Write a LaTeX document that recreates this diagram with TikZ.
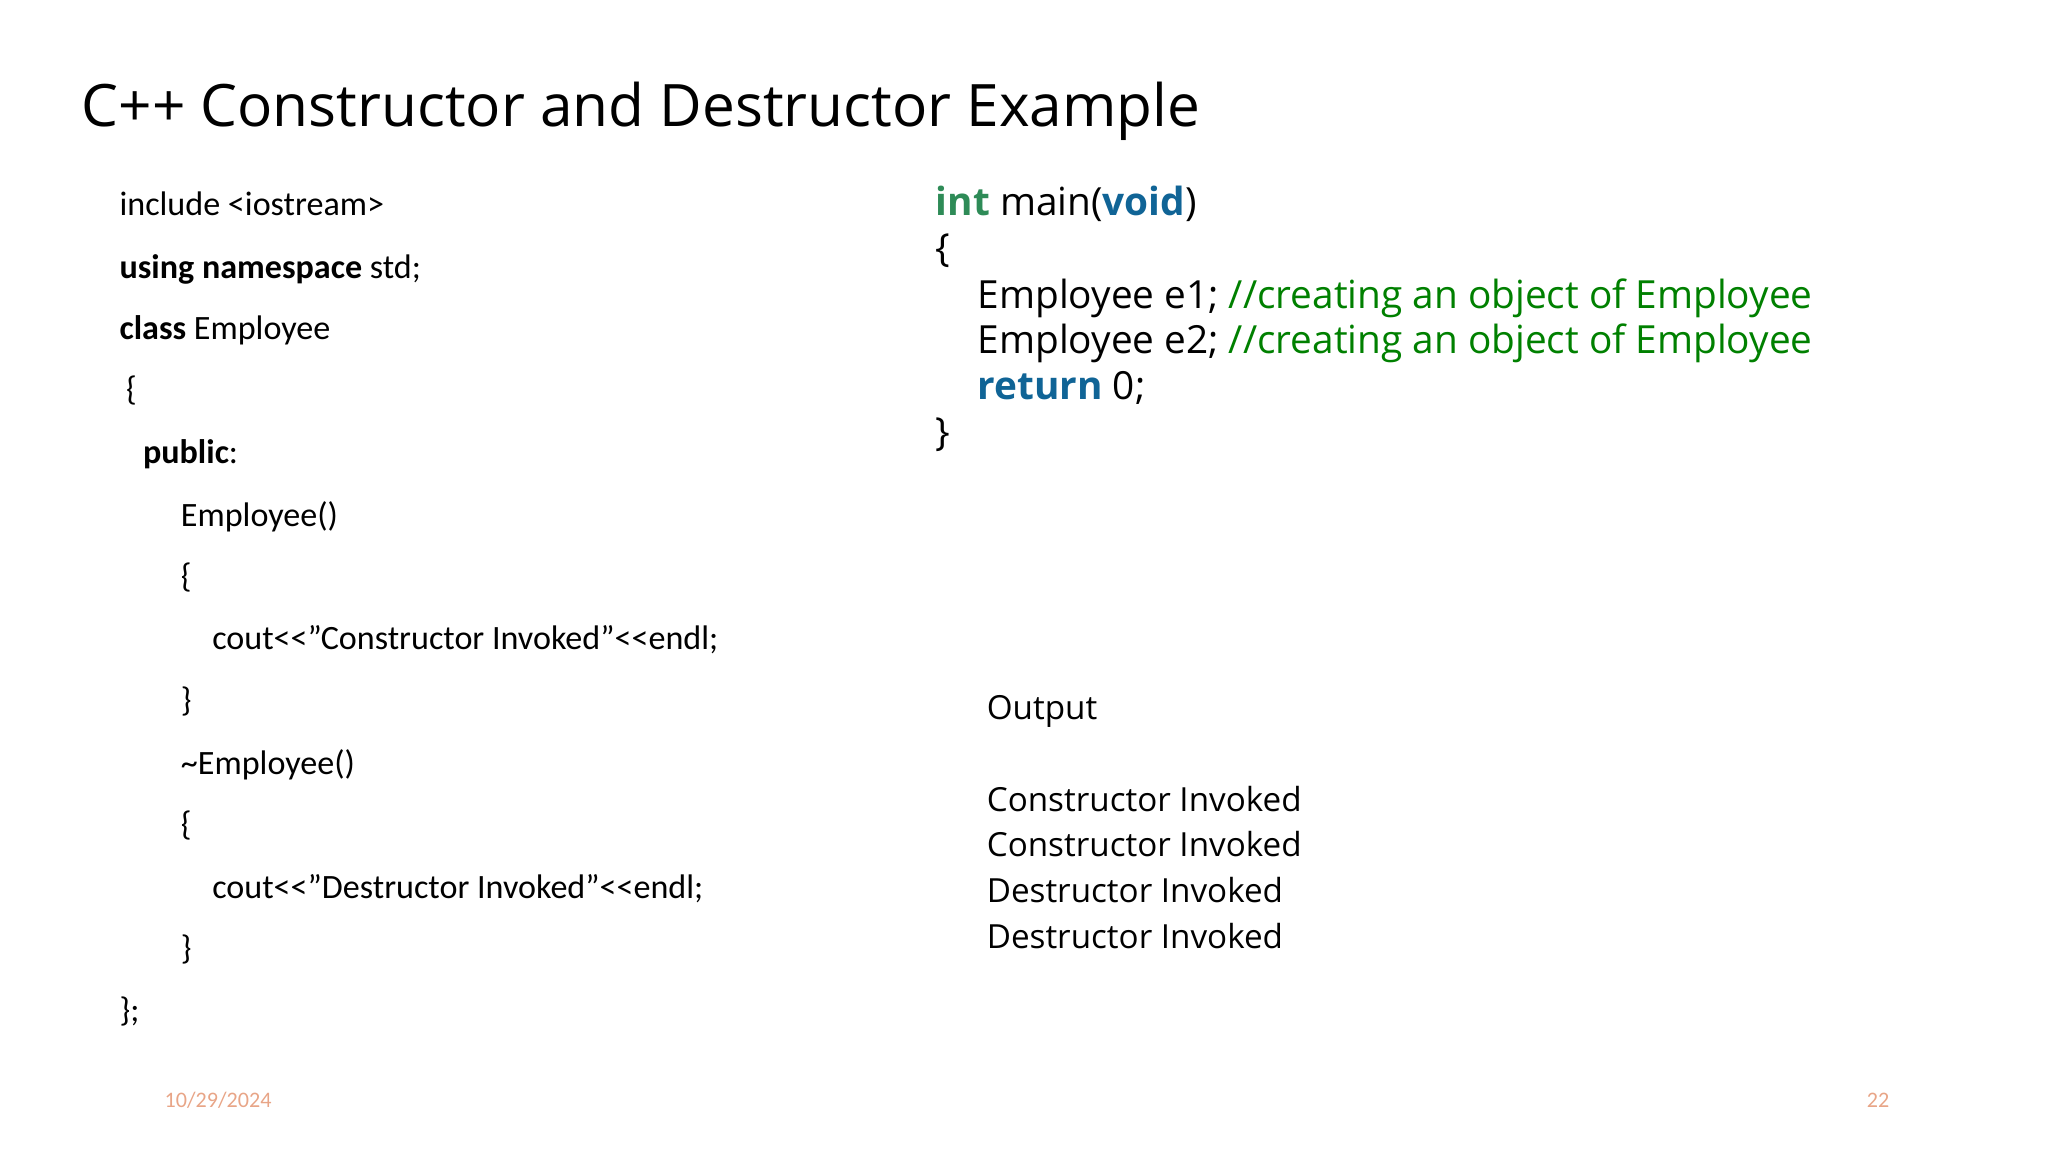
\documentclass[tikz,border=0pt]{standalone}
\usepackage{fontspec}
\setmainfont{Carlito}
\newfontfamily\osans{Open Sans}
\definecolor{kwg}{RGB}{46,139,87}
\definecolor{kwb}{RGB}{16,100,150}
\definecolor{cmt}{RGB}{0,128,0}
\definecolor{foot}{RGB}{232,165,135}
\begin{document}
\begin{tikzpicture}[x=0.0130612cm,y=-0.0130612cm,
  lc/.style={anchor=base west,inner sep=0,font=\fontsize{9.7pt}{11pt}\selectfont},
  rc/.style={anchor=base west,inner sep=0,font=\osans\fontsize{11.03pt}{13pt}\selectfont},
  oc/.style={anchor=base west,inner sep=0,font=\osans\fontsize{9.45pt}{12pt}\selectfont},
  ft/.style={inner sep=0,anchor=base,font=\fontsize{6.3pt}{7pt}\selectfont,text=foot}]
\useasboundingbox (0,0) rectangle (1568,882);
\node[anchor=base west,inner sep=0,font=\osans\fontsize{16.65pt}{20pt}\selectfont] (title) at (62,97) {C++ Constructor and Destructor Example};
\node[lc] (l1) at (91,165) {include <iostream>};
\node[lc] (l2) at (91,213) {\textbf{using namespace} std;};
\node[lc] (l3) at (91,260) {\textbf{class} Employee};
\node[lc] (l4) at (96,307) {\{};
\node[lc] (l5) at (109,355) {\textbf{public}:};
\node[lc] (l6) at (138,403) {Employee()};
\node[lc] (l7) at (138,450) {\{};
\node[lc] (l8) at (162,497) {cout<{}<\symbol{34}Constructor Invoked\symbol{34}<{}<endl;};
\node[lc] (l9) at (138,545) {\}};
\node[lc] (l10) at (138,593) {\textasciitilde Employee()};
\node[lc] (l11) at (138,640) {\{};
\node[lc] (l12) at (162,688) {cout<{}<\symbol{34}Destructor Invoked\symbol{34}<{}<endl;};
\node[lc] (l13) at (138,735) {\}};
\node[lc] (l14) at (91,782) {\};};
\node[rc] (r1) at (716,165) {\textbf{\textcolor{kwg}{int}} main(\textbf{\textcolor{kwb}{void}})};
\node[rc] (r2) at (716,200) {\{};
\node[rc] (r3) at (748,236) {Employee e1; \textcolor{cmt}{//creating an object of Employee}};
\node[rc] (r4) at (748,271) {Employee e2; \textcolor{cmt}{//creating an object of Employee}};
\node[rc] (r5) at (748,306) {\textbf{\textcolor{kwb}{return}} 0;};
\node[rc] (r6) at (716,341) {\}};
\node[oc] (o0) at (755,551) {Output};
\node[oc] (o1) at (755,621) {Constructor Invoked};
\node[oc] (o2) at (755,656) {Constructor Invoked};
\node[oc] (o3) at (755,691) {Destructor Invoked};
\node[oc] (o4) at (755,726) {Destructor Invoked};
\node[ft] (date) at (167,848) {10/29/2024};
\node[ft] (page) at (1438,848) {22};
\end{tikzpicture}
\end{document}
